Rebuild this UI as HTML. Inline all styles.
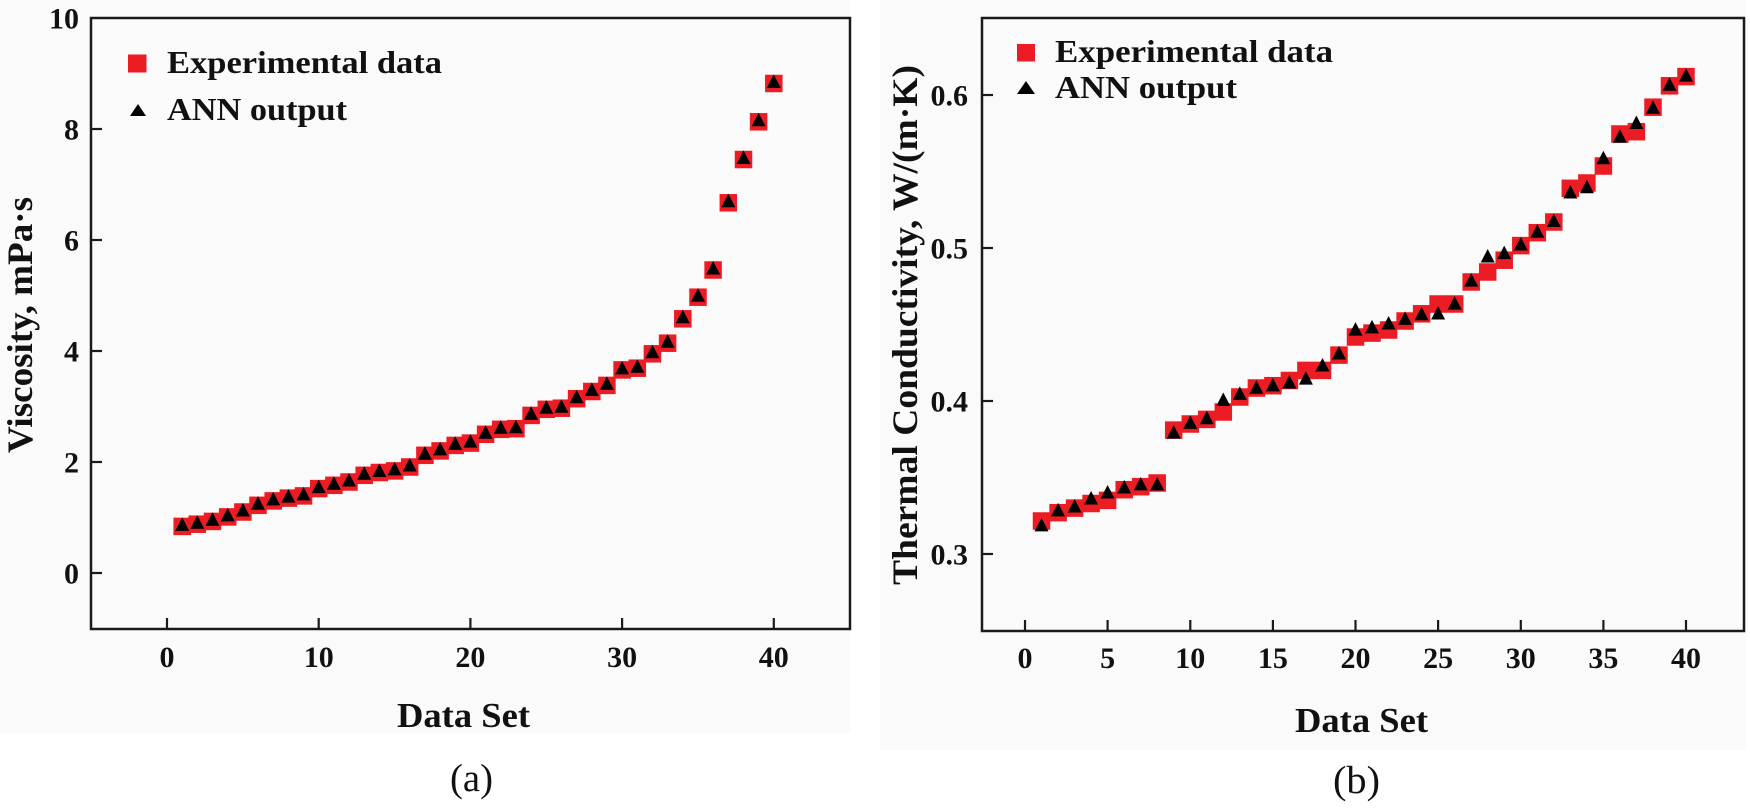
<!DOCTYPE html>
<html>
<head>
<meta charset="utf-8">
<style>
  html, body { margin:0; padding:0; background:#ffffff; }
  body { width:1750px; height:812px; overflow:hidden; }
  svg { display:block; }
  text { font-family: "Liberation Serif", "Times New Roman", serif; fill:#111; }
  .b { font-weight:bold; }
  .tk { font-size:30px; font-weight:bold; }
</style>
</head>
<body>
<svg width="1750" height="812" viewBox="0 0 1750 812" xmlns="http://www.w3.org/2000/svg">
  <defs>
    <rect id="sq" x="-8.75" y="-8.75" width="17.5" height="17.5" fill="#ec1c24"/>
    <path id="tr" d="M0,-7 L7,6.5 L-7,6.5 Z" fill="#000"/>
  </defs>

  <!-- backgrounds -->
  <rect x="0" y="0" width="850" height="733" fill="#fafafa"/>
  <rect x="880" y="0" width="866" height="750" fill="#fafafa"/>

  <!-- ================= LEFT PLOT ================= -->
  <rect x="91" y="18" width="759" height="611" fill="none" stroke="#1a1a1a" stroke-width="2.5"/>
  <g stroke="#1a1a1a" stroke-width="2.2">
    <line x1="91" y1="573" x2="102" y2="573"/>
    <line x1="91" y1="462" x2="102" y2="462"/>
    <line x1="91" y1="351" x2="102" y2="351"/>
    <line x1="91" y1="240" x2="102" y2="240"/>
    <line x1="91" y1="129" x2="102" y2="129"/>
    <line x1="167" y1="629" x2="167" y2="618"/>
    <line x1="318.7" y1="629" x2="318.7" y2="618"/>
    <line x1="470.4" y1="629" x2="470.4" y2="618"/>
    <line x1="622.1" y1="629" x2="622.1" y2="618"/>
    <line x1="773.8" y1="629" x2="773.8" y2="618"/>
  </g>
  <g class="tk" text-anchor="end">
    <text x="79" y="583.5">0</text>
    <text x="79" y="472.5">2</text>
    <text x="79" y="361.5">4</text>
    <text x="79" y="250.5">6</text>
    <text x="79" y="139.5">8</text>
    <text x="79" y="28.5">10</text>
  </g>
  <g class="tk" text-anchor="middle">
    <text x="167" y="667">0</text>
    <text x="318.7" y="667">10</text>
    <text x="470.4" y="667">20</text>
    <text x="622.1" y="667">30</text>
    <text x="773.8" y="667">40</text>
  </g>
  <text class="b" x="397" y="727" font-size="35" textLength="133" lengthAdjust="spacingAndGlyphs">Data Set</text>
  <text class="b" transform="translate(32,325) rotate(-90)" text-anchor="middle" font-size="36" textLength="256" lengthAdjust="spacingAndGlyphs">Viscosity, mPa·s</text>
  <text x="450" y="791" font-size="39" textLength="43" lengthAdjust="spacingAndGlyphs">(a)</text>

  <!-- legend left -->
  <rect x="128" y="54.5" width="18.5" height="18" fill="#ec1c24"/>
  <text class="b" x="167" y="73" font-size="32" textLength="275" lengthAdjust="spacingAndGlyphs">Experimental data</text>
  <path d="M138,104 L146,116 L130,116 Z" fill="#000"/>
  <text class="b" x="167" y="120" font-size="32" textLength="180" lengthAdjust="spacingAndGlyphs">ANN output</text>

  <!-- left squares -->
  <g>
    <use href="#sq" x="182.2" y="526.4"/><use href="#sq" x="197.3" y="524.2"/><use href="#sq" x="212.5" y="521.4"/><use href="#sq" x="227.7" y="516.9"/>
    <use href="#sq" x="242.9" y="512.0"/><use href="#sq" x="258.0" y="505.3"/><use href="#sq" x="273.2" y="500.9"/><use href="#sq" x="288.4" y="498.1"/>
    <use href="#sq" x="303.5" y="495.9"/><use href="#sq" x="318.7" y="488.6"/><use href="#sq" x="333.9" y="485.3"/><use href="#sq" x="349.0" y="482.0"/>
    <use href="#sq" x="364.2" y="475.3"/><use href="#sq" x="379.4" y="472.5"/><use href="#sq" x="394.6" y="470.9"/><use href="#sq" x="409.7" y="467.0"/>
    <use href="#sq" x="424.9" y="455.3"/><use href="#sq" x="440.1" y="450.9"/><use href="#sq" x="455.2" y="445.4"/><use href="#sq" x="470.4" y="443.1"/>
    <use href="#sq" x="485.6" y="434.3"/><use href="#sq" x="500.7" y="429.3"/><use href="#sq" x="515.9" y="428.7"/><use href="#sq" x="531.1" y="415.4"/>
    <use href="#sq" x="546.3" y="409.3"/><use href="#sq" x="561.4" y="408.2"/><use href="#sq" x="576.6" y="398.7"/><use href="#sq" x="591.8" y="391.5"/>
    <use href="#sq" x="606.9" y="385.4"/><use href="#sq" x="622.1" y="369.9"/><use href="#sq" x="637.3" y="368.2"/><use href="#sq" x="652.4" y="353.8"/>
    <use href="#sq" x="667.6" y="343.2"/><use href="#sq" x="682.8" y="318.8"/><use href="#sq" x="698.0" y="297.2"/><use href="#sq" x="713.1" y="270.0"/>
    <use href="#sq" x="728.3" y="202.8"/><use href="#sq" x="743.5" y="159.5"/><use href="#sq" x="758.6" y="121.8"/><use href="#sq" x="773.8" y="83.5"/>
  </g>
  <!-- left triangles -->
  <g transform="translate(0,-2)">
    <use href="#tr" x="182.2" y="526.4"/><use href="#tr" x="197.3" y="524.2"/><use href="#tr" x="212.5" y="521.4"/><use href="#tr" x="227.7" y="516.9"/>
    <use href="#tr" x="242.9" y="512.0"/><use href="#tr" x="258.0" y="505.3"/><use href="#tr" x="273.2" y="500.9"/><use href="#tr" x="288.4" y="498.1"/>
    <use href="#tr" x="303.5" y="495.9"/><use href="#tr" x="318.7" y="488.6"/><use href="#tr" x="333.9" y="485.3"/><use href="#tr" x="349.0" y="482.0"/>
    <use href="#tr" x="364.2" y="475.3"/><use href="#tr" x="379.4" y="472.5"/><use href="#tr" x="394.6" y="470.9"/><use href="#tr" x="409.7" y="467.0"/>
    <use href="#tr" x="424.9" y="455.3"/><use href="#tr" x="440.1" y="450.9"/><use href="#tr" x="455.2" y="445.4"/><use href="#tr" x="470.4" y="443.1"/>
    <use href="#tr" x="485.6" y="434.3"/><use href="#tr" x="500.7" y="429.3"/><use href="#tr" x="515.9" y="428.7"/><use href="#tr" x="531.1" y="415.4"/>
    <use href="#tr" x="546.3" y="409.3"/><use href="#tr" x="561.4" y="408.2"/><use href="#tr" x="576.6" y="398.7"/><use href="#tr" x="591.8" y="391.5"/>
    <use href="#tr" x="606.9" y="385.4"/><use href="#tr" x="622.1" y="369.9"/><use href="#tr" x="637.3" y="368.2"/><use href="#tr" x="652.4" y="353.8"/>
    <use href="#tr" x="667.6" y="343.2"/><use href="#tr" x="682.8" y="318.8"/><use href="#tr" x="698.0" y="297.2"/><use href="#tr" x="713.1" y="270.0"/>
    <use href="#tr" x="728.3" y="202.8"/><use href="#tr" x="743.5" y="159.5"/><use href="#tr" x="758.6" y="121.8"/><use href="#tr" x="773.8" y="83.5"/>
  </g>

  <!-- ================= RIGHT PLOT ================= -->
  <rect x="982" y="18" width="762" height="613" fill="none" stroke="#1a1a1a" stroke-width="2.5"/>
  <g stroke="#1a1a1a" stroke-width="2.2">
    <line x1="982" y1="554" x2="993" y2="554"/>
    <line x1="982" y1="401" x2="993" y2="401"/>
    <line x1="982" y1="248" x2="993" y2="248"/>
    <line x1="982" y1="95" x2="993" y2="95"/>
    <line x1="1025" y1="631" x2="1025" y2="620"/>
    <line x1="1107.6" y1="631" x2="1107.6" y2="620"/>
    <line x1="1190.3" y1="631" x2="1190.3" y2="620"/>
    <line x1="1272.9" y1="631" x2="1272.9" y2="620"/>
    <line x1="1355.5" y1="631" x2="1355.5" y2="620"/>
    <line x1="1438.1" y1="631" x2="1438.1" y2="620"/>
    <line x1="1520.8" y1="631" x2="1520.8" y2="620"/>
    <line x1="1603.4" y1="631" x2="1603.4" y2="620"/>
    <line x1="1686" y1="631" x2="1686" y2="620"/>
  </g>
  <g class="tk" text-anchor="end">
    <text x="968" y="564.5">0.3</text>
    <text x="968" y="411.5">0.4</text>
    <text x="968" y="258.5">0.5</text>
    <text x="968" y="105.5">0.6</text>
  </g>
  <g class="tk" text-anchor="middle">
    <text x="1025" y="668">0</text>
    <text x="1107.6" y="668">5</text>
    <text x="1190.3" y="668">10</text>
    <text x="1272.9" y="668">15</text>
    <text x="1355.5" y="668">20</text>
    <text x="1438.1" y="668">25</text>
    <text x="1520.8" y="668">30</text>
    <text x="1603.4" y="668">35</text>
    <text x="1686" y="668">40</text>
  </g>
  <text class="b" x="1295" y="732" font-size="35" textLength="133" lengthAdjust="spacingAndGlyphs">Data Set</text>
  <text class="b" transform="translate(917,325) rotate(-90)" text-anchor="middle" font-size="36" textLength="520" lengthAdjust="spacingAndGlyphs">Thermal Conductivity, W/(m·K)</text>
  <text x="1333" y="793" font-size="39" textLength="47" lengthAdjust="spacingAndGlyphs">(b)</text>

  <!-- legend right -->
  <rect x="1017" y="44" width="18" height="17.5" fill="#ec1c24"/>
  <path d="M1026,81 L1035,94 L1017,94 Z" fill="#000"/>
  <text class="b" x="1055" y="62" font-size="32" textLength="278" lengthAdjust="spacingAndGlyphs">Experimental data</text>
  <text class="b" x="1055" y="98" font-size="32" textLength="182" lengthAdjust="spacingAndGlyphs">ANN output</text>

  <!-- right squares -->
  <g>
    <use href="#sq" x="1041.5" y="521.0"/><use href="#sq" x="1058.1" y="512.7"/><use href="#sq" x="1074.6" y="508.1"/><use href="#sq" x="1091.1" y="503.5"/>
    <use href="#sq" x="1107.6" y="500.4"/><use href="#sq" x="1124.2" y="489.7"/><use href="#sq" x="1140.7" y="486.7"/><use href="#sq" x="1157.2" y="483.0"/>
    <use href="#sq" x="1173.7" y="430.1"/><use href="#sq" x="1190.3" y="424.0"/><use href="#sq" x="1206.8" y="419.4"/><use href="#sq" x="1223.3" y="412.0"/>
    <use href="#sq" x="1239.8" y="397.0"/><use href="#sq" x="1256.4" y="388.0"/><use href="#sq" x="1272.9" y="385.7"/><use href="#sq" x="1289.4" y="380.5"/>
    <use href="#sq" x="1305.9" y="370.4"/><use href="#sq" x="1322.5" y="370.4"/><use href="#sq" x="1339.0" y="355.1"/><use href="#sq" x="1355.5" y="337.0"/>
    <use href="#sq" x="1372.0" y="333.1"/><use href="#sq" x="1388.6" y="330.0"/><use href="#sq" x="1405.1" y="321.0"/><use href="#sq" x="1421.6" y="313.8"/>
    <use href="#sq" x="1438.1" y="304.0"/><use href="#sq" x="1454.7" y="304.0"/><use href="#sq" x="1471.2" y="282.0"/><use href="#sq" x="1487.7" y="272.0"/>
    <use href="#sq" x="1504.2" y="260.2"/><use href="#sq" x="1520.8" y="245.6"/><use href="#sq" x="1537.3" y="232.7"/><use href="#sq" x="1553.8" y="222.0"/>
    <use href="#sq" x="1570.3" y="188.3"/><use href="#sq" x="1586.9" y="183.0"/><use href="#sq" x="1603.4" y="166.0"/><use href="#sq" x="1619.9" y="134.0"/>
    <use href="#sq" x="1636.4" y="131.7"/><use href="#sq" x="1653.0" y="107.2"/><use href="#sq" x="1669.5" y="85.8"/><use href="#sq" x="1686.0" y="76.6"/>
  </g>
  <!-- right triangles -->
  <g>
    <use href="#tr" x="1041.5" y="524.9"/><use href="#tr" x="1058.1" y="509.9"/><use href="#tr" x="1074.6" y="506.0"/><use href="#tr" x="1091.1" y="498.0"/>
    <use href="#tr" x="1107.6" y="492.0"/><use href="#tr" x="1124.2" y="487.0"/><use href="#tr" x="1140.7" y="483.9"/><use href="#tr" x="1157.2" y="483.9"/>
    <use href="#tr" x="1173.7" y="432.1"/><use href="#tr" x="1190.3" y="422.4"/><use href="#tr" x="1206.8" y="417.8"/><use href="#tr" x="1223.3" y="399.5"/>
    <use href="#tr" x="1239.8" y="393.4"/><use href="#tr" x="1256.4" y="387.2"/><use href="#tr" x="1272.9" y="384.9"/><use href="#tr" x="1289.4" y="382.0"/>
    <use href="#tr" x="1305.9" y="378.1"/><use href="#tr" x="1322.5" y="365.0"/><use href="#tr" x="1339.0" y="353.0"/><use href="#tr" x="1355.5" y="329.1"/>
    <use href="#tr" x="1372.0" y="326.9"/><use href="#tr" x="1388.6" y="323.0"/><use href="#tr" x="1405.1" y="318.4"/><use href="#tr" x="1421.6" y="313.8"/>
    <use href="#tr" x="1438.1" y="313.0"/><use href="#tr" x="1454.7" y="303.1"/><use href="#tr" x="1471.2" y="280.1"/><use href="#tr" x="1487.7" y="256.0"/>
    <use href="#tr" x="1504.2" y="252.6"/><use href="#tr" x="1520.8" y="244.0"/><use href="#tr" x="1537.3" y="231.2"/><use href="#tr" x="1553.8" y="220.5"/>
    <use href="#tr" x="1570.3" y="192.0"/><use href="#tr" x="1586.9" y="186.8"/><use href="#tr" x="1603.4" y="157.7"/><use href="#tr" x="1619.9" y="136.3"/>
    <use href="#tr" x="1636.4" y="122.5"/><use href="#tr" x="1653.0" y="107.2"/><use href="#tr" x="1669.5" y="84.3"/><use href="#tr" x="1686.0" y="75.1"/>
  </g>
</svg>
</body>
</html>
